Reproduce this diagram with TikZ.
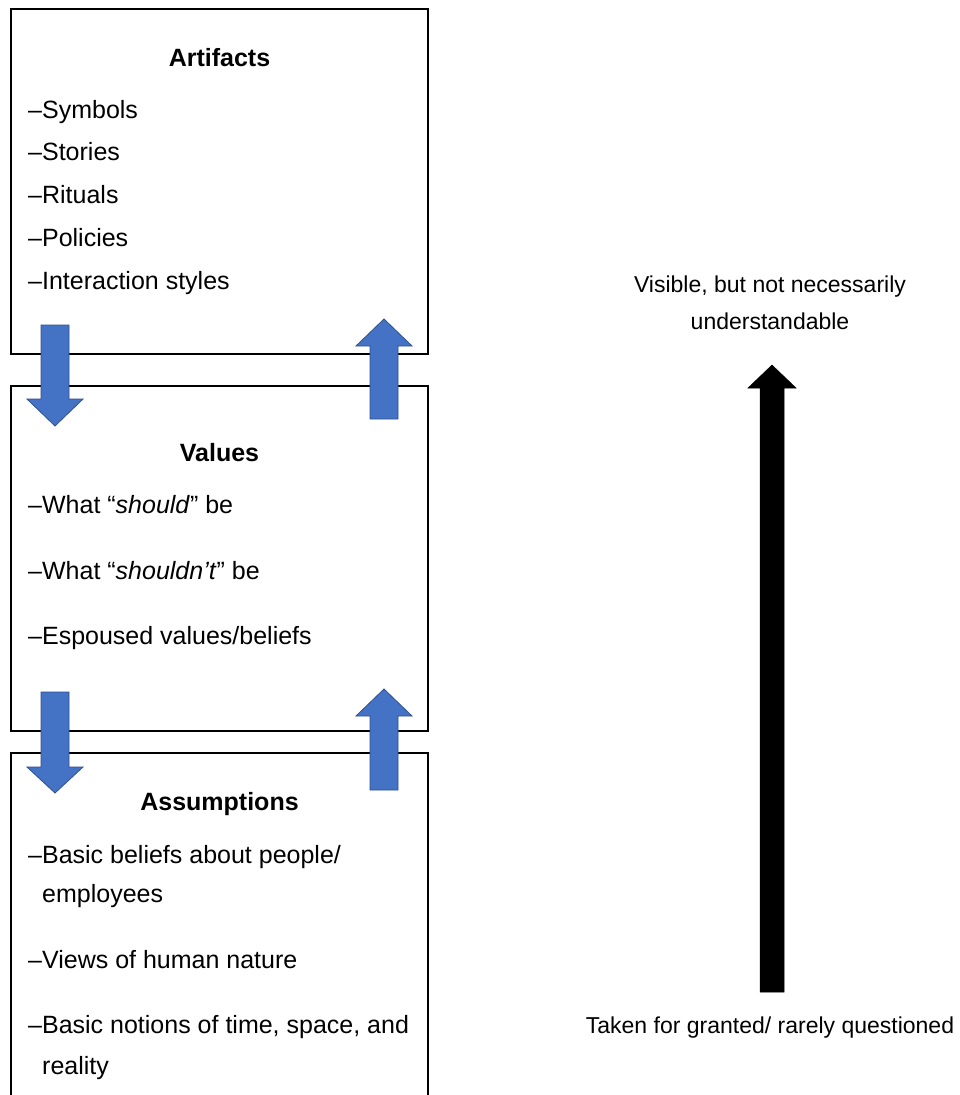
\documentclass[tikz,border=0pt]{standalone}
\usepackage{fontspec}
\setmainfont{Liberation Sans}
\definecolor{arrblue}{HTML}{4472C4}
\definecolor{arredge}{HTML}{2F528F}
\begin{document}
\begin{tikzpicture}[x=1pt,y=-1pt,
  box/.style={draw=black,line width=1.4pt,inner sep=0pt},
  ttl/.style={font=\fontsize{25}{30}\selectfont\bfseries,anchor=base,inner sep=0pt},
  itm/.style={font=\fontsize{25}{30}\selectfont,anchor=base west,inner sep=0pt},
  lbl/.style={font=\fontsize{23}{28}\selectfont,anchor=base,inner sep=0pt},
  blockblue/.style={fill=arrblue,draw=arredge,line width=0.8pt,line join=miter},
  blockblack/.style={fill=black,draw=black,line width=0.5pt}]
\useasboundingbox (0,0) rectangle (960,1095);
\clip (0,0) rectangle (960,1095);
\fill[white] (0,0) rectangle (960,1095);
% boxes
\node[box,minimum width=417pt,minimum height=345pt] (art) at (219.5,181.5) {};
\node[box,minimum width=417pt,minimum height=345pt] (val) at (219.5,558.5) {};
\node[box,minimum width=417pt,minimum height=400pt] (ass) at (219.5,953) {};
% texts box 1
\node[ttl] (t1) at (219.5,66) {Artifacts};
\node[itm] (a1) at (28,118) {–Symbols};
\node[itm] (a2) at (28,160) {–Stories};
\node[itm] (a3) at (28,203) {–Rituals};
\node[itm] (a4) at (28,246) {–Policies};
\node[itm] (a5) at (28,289) {–Interaction styles};
% texts box 2
\node[ttl] (t2) at (219.5,461) {Values};
\node[itm] (v1) at (28,513) {–What “\textit{should}” be};
\node[itm] (v2) at (28,579) {–What “\textit{shouldn’t}” be};
\node[itm] (v3) at (28,644) {–Espoused values/beliefs};
% texts box 3
\node[ttl] (t3) at (219.5,810) {Assumptions};
\node[itm] (s1) at (28,863) {–Basic beliefs about people/};
\node[itm] (s1b) at (42,902) {employees};
\node[itm] (s2) at (28,968) {–Views of human nature};
\node[itm] (s3) at (28,1033) {–Basic notions of time, space, and};
\node[itm] (s3b) at (42,1074) {reality};
% blue block arrows
\draw[blockblue] (41,325) -- (69,325) -- (69,399) -- (83,399) -- (55,426) -- (27,399) -- (41,399) -- cycle;
\draw[blockblue] (370,419) -- (398,419) -- (398,346) -- (412,346) -- (384,319) -- (356,346) -- (370,346) -- cycle;
\draw[blockblue] (41,692) -- (69,692) -- (69,767) -- (83,767) -- (55,793) -- (27,767) -- (41,767) -- cycle;
\draw[blockblue] (370,790) -- (398,790) -- (398,716) -- (412,716) -- (384,689) -- (356,716) -- (370,716) -- cycle;
% black arrow
\draw[blockblack] (760,992) -- (784,992) -- (784,388) -- (796,388) -- (772,365) -- (748,388) -- (760,388) -- cycle;
% right labels
\node[lbl] (top1) at (770,292) {Visible, but not necessarily};
\node[lbl] (top2) at (770,329) {understandable};
\node[lbl] (bot) at (770,1033) {Taken for granted/ rarely questioned};
\end{tikzpicture}
\end{document}
